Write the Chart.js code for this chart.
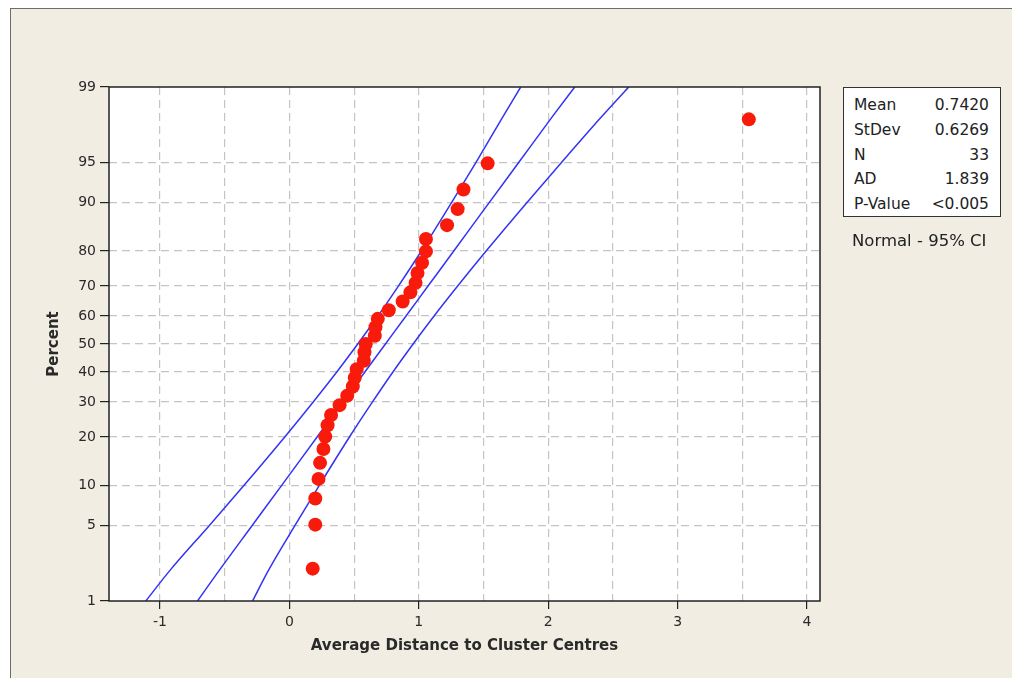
<!DOCTYPE html>
<html>
<head>
<meta charset="utf-8">
<script src="https://cdn.jsdelivr.net/npm/chart.js@4.4.1/dist/chart.umd.min.js"></script>
<style>
  body { margin: 0; background: #fff; width: 1012px; height: 678px; overflow: hidden; position: relative; }
  .frame { position: absolute; left: 10px; top: 8px; width: 1002px; height: 670px; background: #F1EDE3; border-top: 1px solid #6b6b6b; border-left: 1px solid #6b6b6b; }
  #chart { position: absolute; left: 0; top: 0; }
  .stats { position: absolute; left: 843px; top: 87px; width: 158px; height: 130px; background: #fff; border: 1px solid #333; box-sizing: border-box;
           font: 15.5px "DejaVu Sans", sans-serif; color: #222; padding: 5px 11px 0 10px; }
  .stats div { display: flex; justify-content: space-between; height: 24.8px; line-height: 24.8px; }
  .note { position: absolute; left: 852px; top: 231px; font: 16.5px "DejaVu Sans", sans-serif; color: #222; }
</style>
</head>
<body>
<div class="frame"></div>
<canvas id="chart" width="1012" height="678"></canvas>
<div class="stats">
  <div><span>Mean</span><span>0.7420</span></div>
  <div><span>StDev</span><span>0.6269</span></div>
  <div><span>N</span><span>33</span></div>
  <div><span>AD</span><span>1.839</span></div>
  <div><span>P-Value</span><span>&lt;0.005</span></div>
</div>
<div class="note">Normal - 95% CI</div>
<script>
// tick labels
const pctTicks = [1, 5, 10, 20, 30, 40, 50, 60, 70, 80, 90, 95, 99];
const xGrid = [-1, -0.5, 0, 0.5, 1, 1.5, 2, 2.5, 3, 3.5, 4];

const distances = [0.18, 0.20, 0.20, 0.225, 0.237, 0.263, 0.277, 0.295, 0.322, 0.388, 0.447,
                   0.49, 0.505, 0.52, 0.575, 0.58, 0.59, 0.66, 0.665, 0.683, 0.768, 0.875,
                   0.935, 0.975, 0.99, 1.025, 1.055, 1.055, 1.218, 1.30, 1.345, 1.532, 3.55];
const percents = [2.1, 5.1, 8.1, 11.1, 14.1, 17.1, 20.1, 23.1, 26.0, 29.0, 32.0,
                  35.0, 38.0, 41.0, 44.0, 47.0, 50.0, 53.0, 56.0, 59.0, 62.0, 65.0,
                  68.0, 71.0, 74.0, 76.9, 79.9, 82.9, 85.9, 88.9, 91.9, 94.9, 97.9];

// fitted line and 95% CI band
const bandPct = [1, 2, 5, 10, 20, 30, 40, 50, 60, 70, 80, 90, 95, 98, 99];
const fitLine = [-0.71, -0.545, -0.289, -0.061, 0.214, 0.413, 0.583, 0.742, 0.901, 1.071, 1.27, 1.545, 1.773, 2.029, 2.205];
const lowerCI = [-1.11, -0.926, -0.62, -0.352, -0.036, 0.184, 0.366, 0.528, 0.684, 0.842, 1.02, 1.254, 1.442, 1.648, 1.787];
const upperCI = [-0.285, -0.164, 0.042, 0.23, 0.464, 0.642, 0.80, 0.956, 1.118, 1.30, 1.52, 1.836, 2.104, 2.41, 2.622];

// normal probability scale: percent -> z
function probit(pct) {
    const p = pct / 100;
    const a = [-39.69683028665376, 220.9460984245205, -275.9285104469687, 138.3577518672690, -30.66479806614716, 2.506628277459239];
    const b = [-54.47609879822406, 161.5858368580409, -155.6989798598866, 66.80131188771972, -13.28068155288572];
    const c = [-0.007784894002430293, -0.3223964580411365, -2.400758277161838, -2.549732539343734, 4.374664141464968, 2.938163982698783];
    const d = [0.007784695709041462, 0.3224671290700398, 2.445134137142996, 3.754408661907416];
    const pl = 0.02425;
    let q, r;
    if (p < pl) {
        q = Math.sqrt(-2 * Math.log(p));
        return (((((c[0]*q+c[1])*q+c[2])*q+c[3])*q+c[4])*q+c[5]) / ((((d[0]*q+d[1])*q+d[2])*q+d[3])*q+1);
    } else if (p <= 1 - pl) {
        q = p - 0.5; r = q * q;
        return (((((a[0]*r+a[1])*r+a[2])*r+a[3])*r+a[4])*r+a[5])*q / (((((b[0]*r+b[1])*r+b[2])*r+b[3])*r+b[4])*r+1);
    }
    q = Math.sqrt(-2 * Math.log(1 - p));
    return -(((((c[0]*q+c[1])*q+c[2])*q+c[3])*q+c[4])*q+c[5]) / ((((d[0]*q+d[1])*q+d[2])*q+d[3])*q+1);
}

const blue = '#3333F5';
const red = '#F81A0A';
const tickFont = { family: 'DejaVu Sans', size: 14 };
const titleFont = { family: 'DejaVu Sans', size: 15, weight: 'bold' };

function bandLine(xs) {
    return {
        data: bandPct.map((p, i) => ({ x: xs[i], y: probit(p) })),
        showLine: true, borderColor: blue, borderWidth: 1.5, pointRadius: 0, fill: false,
        cubicInterpolationMode: 'monotone'
    };
}

// white plot area and its frame
const plotBox = {
    id: 'plotBox',
    beforeDraw(chart) {
        const a = chart.chartArea, c = chart.ctx;
        c.save();
        c.fillStyle = '#fff';
        c.fillRect(a.left, a.top, a.right - a.left, a.bottom - a.top);
        c.restore();
    },
    afterDraw(chart) {
        const a = chart.chartArea, c = chart.ctx;
        c.save();
        c.strokeStyle = '#222';
        c.lineWidth = 1.5;
        c.strokeRect(a.left, a.top, a.right - a.left, a.bottom - a.top);
        c.restore();
    }
};

const ctx = document.getElementById('chart').getContext('2d');
const chart = new Chart(ctx, {
    type: 'scatter',
    data: {
        datasets: [
            Object.assign(bandLine(lowerCI), { order: 2 }),
            Object.assign(bandLine(fitLine), { order: 2 }),
            Object.assign(bandLine(upperCI), { order: 2 }),
            {
                data: distances.map((d, i) => ({ x: d, y: probit(percents[i]) })),
                backgroundColor: red, borderWidth: 0, pointRadius: 7, order: 1
            }
        ]
    },
    options: {
        responsive: false,
        animation: false,
        layout: { padding: { left: 0, top: 87, right: 192, bottom: 0 } },
        plugins: { legend: { display: false }, tooltip: { enabled: false } },
        scales: {
            x: {
                type: 'linear', min: -1.394, max: 4.10,
                afterBuildTicks: s => { s.ticks = xGrid.map(v => ({ value: v })); },
                afterFit: s => { s.height = 77; },
                ticks: {
                    autoSkip: false, maxRotation: 0, padding: 5, color: '#2a2a2a', font: tickFont,
                    callback: v => Number.isInteger(v) ? v : ''
                },
                grid: {
                    color: '#c4c4c4', lineWidth: 1.2, tickLength: 8,
                    tickColor: c => Number.isInteger(c.tick.value) ? '#222' : 'rgba(0,0,0,0)'
                },
                border: { display: false, dash: [8, 5] },
                title: { display: true, text: 'Average Distance to Cluster Centres', font: titleFont, color: '#2a2a2a', padding: { top: 0, bottom: 23 } }
            },
            y: {
                type: 'linear', min: probit(1), max: probit(99),
                afterBuildTicks: s => { s.ticks = pctTicks.map(p => ({ value: probit(p) })); },
                afterFit: s => { s.width = 109; },
                ticks: {
                    autoSkip: false, padding: 4, color: '#2a2a2a', font: tickFont,
                    callback: (v, i) => pctTicks[i]
                },
                grid: {
                    color: c => (c.index === 0 || c.index === pctTicks.length - 1) ? 'rgba(0,0,0,0)' : '#c4c4c4',
                    lineWidth: 1.2, tickLength: 9, tickColor: '#222'
                },
                border: { display: false, dash: [8, 5] },
                title: { display: true, text: 'Percent', font: titleFont, color: '#2a2a2a', padding: { top: 45, bottom: 0 } }
            }
        }
    },
    plugins: [plotBox]
});
</script>
</body>
</html>
